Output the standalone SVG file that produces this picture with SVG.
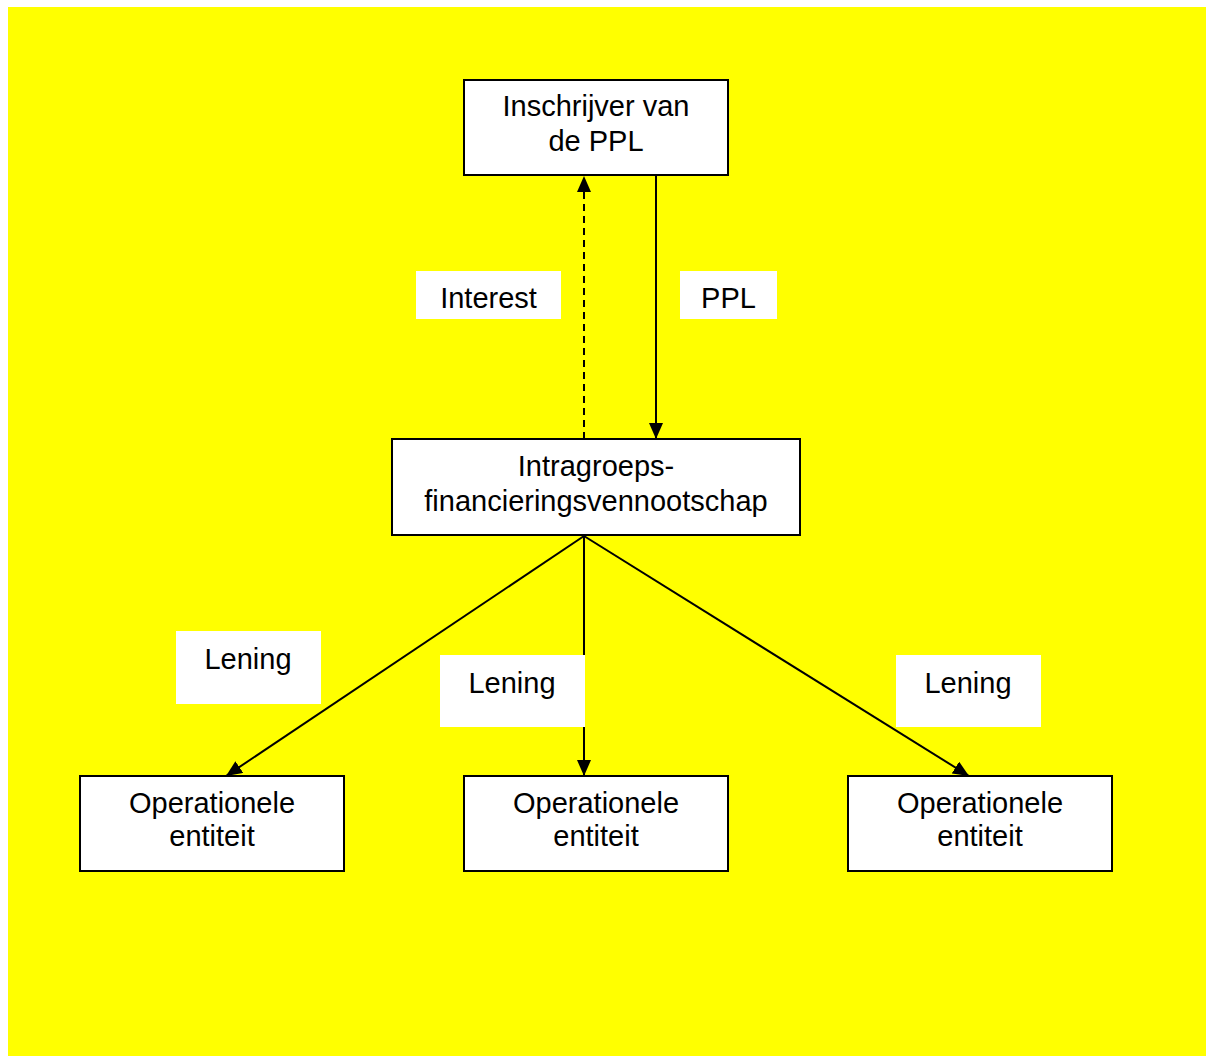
<svg xmlns="http://www.w3.org/2000/svg" width="1206" height="1056" viewBox="0 0 1206 1056">
  <style>
    .box { fill: #ffffff; stroke: #000000; stroke-width: 2; }
    .lbl { fill: #ffffff; stroke: none; }
    .txt { font-family: "Liberation Sans", Arial, sans-serif; font-size: 29px; fill: #000000; text-anchor: middle; }
    .edge { stroke: #000000; stroke-width: 2; fill: none; }
    .dash { stroke-dasharray: 7 5; }
  </style>
  <defs>
    <marker id="arrow" viewBox="0 0 16 14" refX="16" refY="7" markerWidth="16" markerHeight="14" markerUnits="userSpaceOnUse" orient="auto">
      <path d="M0,0 L16,7 L0,14 Z" fill="#000000"/>
    </marker>
  </defs>

  <!-- background -->
  <rect x="8" y="7" width="1198" height="1049" fill="#ffff00"/>

  <!-- connectors -->
  <g id="connectors">
    <line class="edge dash" x1="584" y1="439" x2="584" y2="176" marker-end="url(#arrow)"/>
    <line class="edge" x1="656" y1="176" x2="656" y2="439" marker-end="url(#arrow)"/>
    <line class="edge" x1="584" y1="536" x2="226" y2="776" marker-end="url(#arrow)"/>
    <line class="edge" x1="584" y1="536" x2="584" y2="776" marker-end="url(#arrow)"/>
    <line class="edge" x1="584" y1="536" x2="969" y2="776" marker-end="url(#arrow)"/>
  </g>

  <!-- connector labels -->
  <g id="label-interest">
    <rect class="lbl" x="416" y="271" width="145" height="48"/>
    <text class="txt" x="488.5" y="308">Interest</text>
  </g>
  <g id="label-ppl">
    <rect class="lbl" x="680" y="271" width="97" height="48"/>
    <text class="txt" x="728.5" y="308">PPL</text>
  </g>
  <g id="label-lening-left">
    <rect class="lbl" x="176" y="631" width="145" height="73"/>
    <text class="txt" x="248" y="669">Lening</text>
  </g>
  <g id="label-lening-middle">
    <rect class="lbl" x="440" y="655" width="145" height="72"/>
    <text class="txt" x="512" y="693">Lening</text>
  </g>
  <g id="label-lening-right">
    <rect class="lbl" x="896" y="655" width="145" height="72"/>
    <text class="txt" x="968" y="693">Lening</text>
  </g>

  <!-- nodes -->
  <g id="node-inschrijver">
    <rect class="box" x="464" y="80" width="264" height="95"/>
    <text class="txt" x="596" y="116">Inschrijver van</text>
    <text class="txt" x="596" y="151">de PPL</text>
  </g>
  <g id="node-financiering">
    <rect class="box" x="392" y="439" width="408" height="96"/>
    <text class="txt" x="596" y="476">Intragroeps-</text>
    <text class="txt" x="596" y="511">financieringsvennootschap</text>
  </g>
  <g id="node-operationeel-1">
    <rect class="box" x="80" y="776" width="264" height="95"/>
    <text class="txt" x="212" y="813">Operationele</text>
    <text class="txt" x="212" y="846">entiteit</text>
  </g>
  <g id="node-operationeel-2">
    <rect class="box" x="464" y="776" width="264" height="95"/>
    <text class="txt" x="596" y="813">Operationele</text>
    <text class="txt" x="596" y="846">entiteit</text>
  </g>
  <g id="node-operationeel-3">
    <rect class="box" x="848" y="776" width="264" height="95"/>
    <text class="txt" x="980" y="813">Operationele</text>
    <text class="txt" x="980" y="846">entiteit</text>
  </g>
</svg>
